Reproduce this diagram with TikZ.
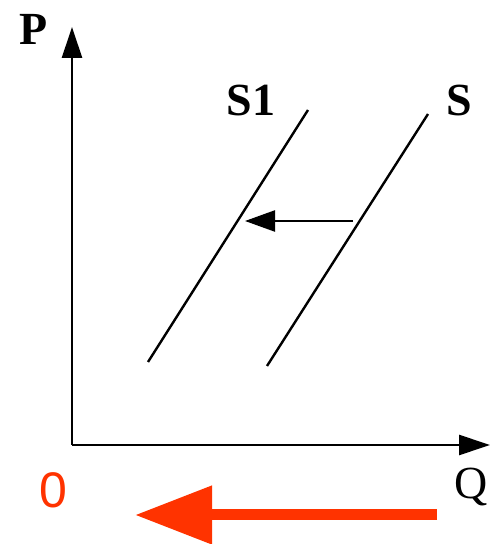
\documentclass[tikz,border=0pt]{standalone}
\usepackage{fontspec}
\setmainfont{Liberation Serif}
\newfontfamily\redsans{Liberation Sans}
\usetikzlibrary{arrows.meta}
\definecolor{redarrow}{HTML}{FF3300}
\tikzset{
  axis/.style={line width=2.6pt,-{Triangle[length=31pt,width=20pt]}},
  curve/.style={line width=2.4pt},
  shiftarrow/.style={line width=2.4pt,-{Triangle[length=30pt,width=21pt]}},
  lbl/.style={inner sep=0pt,font=\fontsize{46}{46}\selectfont\bfseries},
  lblq/.style={inner sep=0pt,font=\fontsize{46}{46}\selectfont},
  bigarrow/.style={line width=11pt,redarrow,-{Triangle[length=77pt,width=56pt]}}
}
\begin{document}
\begin{tikzpicture}[x=1pt,y=1pt]
\useasboundingbox (0,0) rectangle (492,544);
\coordinate (O) at (72,99);
\coordinate (Ytop) at (72,517);
\coordinate (Xend) at (490,99);
\draw[axis] (O) -- (Ytop);
\draw[axis] (O) -- (Xend);
\node[lbl] (P) at (34,515) {P};
\node[lblq] (Q) at (471,57) {Q};
\coordinate (S1a) at (148,182);
\coordinate (S1b) at (308,434);
\coordinate (Sa) at (267,178);
\coordinate (Sb) at (428,430);
\draw[curve] (S1a) -- (S1b);
\draw[curve] (Sa) -- (Sb);
\node[lbl] (S1) at (251,443) {S1};
\node[lbl] (S) at (459,443) {S};
\coordinate (Afrom) at (353,323);
\coordinate (Ato) at (245,323);
\draw[shiftarrow] (Afrom) -- (Ato);
\node[inner sep=0pt,text=redarrow,font=\redsans\fontsize{50}{50}\selectfont] (zero) at (53,54) {0};
\coordinate (Rfrom) at (437,29);
\coordinate (Rto) at (135,29);
\draw[bigarrow] (Rfrom) -- (Rto);
\end{tikzpicture}
\end{document}
